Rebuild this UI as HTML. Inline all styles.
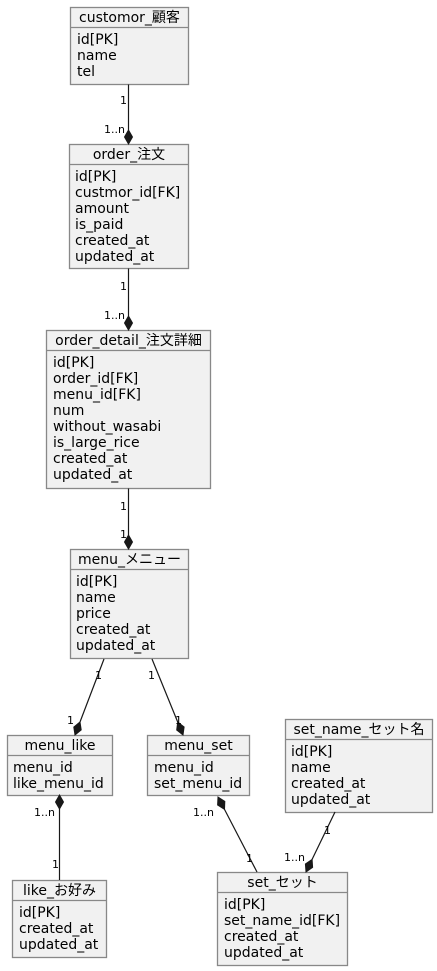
<!DOCTYPE html>
<html><head><meta charset="utf-8"><style>
html,body{margin:0;padding:0;background:#fff;}
svg{display:block}
text{font-family:"DejaVu Sans","Noto Sans CJK JP",sans-serif;fill:#000}
.t{font-size:14px}
.l{font-size:11px}
rect{fill:#f1f1f1;stroke:#888;stroke-width:1.3}
.s{stroke:#888;stroke-width:1.3}
.e{stroke:#181818;stroke-width:1.2;fill:none}
.d{fill:#181818;stroke:#181818;stroke-width:1}
</style></head><body>
<svg width="437" height="971" viewBox="0 0 437 971" xmlns="http://www.w3.org/2000/svg">
<!-- customor -->
<rect x="70.5" y="7.5" width="118" height="77"/><line class="s" x1="70.5" y1="27.5" x2="188.5" y2="27.5"/>
<text class="t" x="129.5" y="22" text-anchor="middle">customor_顧客</text>
<text class="t" x="77" y="44">id[PK]</text><text class="t" x="77" y="60">name</text><text class="t" x="77" y="76">tel</text>
<!-- order -->
<rect x="69.5" y="144.5" width="119" height="124"/><line class="s" x1="69.5" y1="164.5" x2="188.5" y2="164.5"/>
<text class="t" x="129" y="159" text-anchor="middle">order_注文</text>
<text class="t" x="75" y="181">id[PK]</text><text class="t" x="75" y="197">custmor_id[FK]</text><text class="t" x="75" y="213">amount</text><text class="t" x="75" y="229">is_paid</text><text class="t" x="75" y="245">created_at</text><text class="t" x="75" y="261">updated_at</text>
<!-- order_detail -->
<rect x="46.5" y="330.5" width="164" height="158"/><line class="s" x1="46.5" y1="350.5" x2="210.5" y2="350.5"/>
<text class="t" x="128.5" y="345" text-anchor="middle">order_detail_注文詳細</text>
<text class="t" x="53" y="367">id[PK]</text><text class="t" x="53" y="383">order_id[FK]</text><text class="t" x="53" y="399">menu_id[FK]</text><text class="t" x="53" y="415">num</text><text class="t" x="53" y="431">without_wasabi</text><text class="t" x="53" y="447">is_large_rice</text><text class="t" x="53" y="463">created_at</text><text class="t" x="53" y="479">updated_at</text>
<!-- menu -->
<rect x="70.5" y="549.5" width="118" height="109"/><line class="s" x1="70.5" y1="569.5" x2="188.5" y2="569.5"/>
<text class="t" x="129.5" y="564" text-anchor="middle">menu_メニュー</text>
<text class="t" x="76" y="586">id[PK]</text><text class="t" x="76" y="602">name</text><text class="t" x="76" y="618">price</text><text class="t" x="76" y="634">created_at</text><text class="t" x="76" y="650">updated_at</text>
<!-- menu_like -->
<rect x="7.5" y="735.5" width="105" height="60"/><line class="s" x1="7.5" y1="755.5" x2="112.5" y2="755.5"/>
<text class="t" x="60" y="750" text-anchor="middle">menu_like</text>
<text class="t" x="13" y="772">menu_id</text><text class="t" x="13" y="788">like_menu_id</text>
<!-- menu_set -->
<rect x="147.5" y="735.5" width="102" height="60"/><line class="s" x1="147.5" y1="755.5" x2="249.5" y2="755.5"/>
<text class="t" x="198.5" y="750" text-anchor="middle">menu_set</text>
<text class="t" x="154" y="772">menu_id</text><text class="t" x="154" y="788">set_menu_id</text>
<!-- set_name -->
<rect x="285.5" y="719.5" width="147" height="93"/><line class="s" x1="285.5" y1="739.5" x2="432.5" y2="739.5"/>
<text class="t" x="359" y="734" text-anchor="middle">set_name_セット名</text>
<text class="t" x="291" y="756">id[PK]</text><text class="t" x="291" y="772">name</text><text class="t" x="291" y="788">created_at</text><text class="t" x="291" y="804">updated_at</text>
<!-- like -->
<rect x="12.5" y="880.5" width="94" height="77"/><line class="s" x1="12.5" y1="900.5" x2="106.5" y2="900.5"/>
<text class="t" x="59.5" y="895" text-anchor="middle">like_お好み</text>
<text class="t" x="19" y="917">id[PK]</text><text class="t" x="19" y="933">created_at</text><text class="t" x="19" y="949">updated_at</text>
<!-- set -->
<rect x="217.5" y="872.5" width="130" height="93"/><line class="s" x1="217.5" y1="892.5" x2="347.5" y2="892.5"/>
<text class="t" x="282.5" y="887" text-anchor="middle">set_セット</text>
<text class="t" x="224" y="909">id[PK]</text><text class="t" x="224" y="925">set_name_id[FK]</text><text class="t" x="224" y="941">created_at</text><text class="t" x="224" y="957">updated_at</text>

<!-- edges -->
<line class="e" x1="128.5" y1="84.5" x2="128.5" y2="130"/>
<polygon class="d" points="128.5,144 132.5,137 128.5,130 124.5,137"/>
<text class="l" x="120" y="104">1</text><text class="l" x="104" y="133">1..n</text>

<line class="e" x1="128.5" y1="268.5" x2="128.5" y2="316"/>
<polygon class="d" points="128.5,330 132.5,323 128.5,316 124.5,323"/>
<text class="l" x="120" y="290">1</text><text class="l" x="104" y="319">1..n</text>

<line class="e" x1="128.5" y1="488.5" x2="128.5" y2="535"/>
<polygon class="d" points="128.5,549 132.5,542 128.5,535 124.5,542"/>
<text class="l" x="120" y="510">1</text><text class="l" x="120" y="538">1</text>

<line class="e" x1="104" y1="659" x2="80" y2="722"/>
<polygon class="d" points="75,735 81.2,729.9 80,722 73.8,727.1"/>
<text class="l" x="95" y="679">1</text><text class="l" x="67" y="724">1</text>

<line class="e" x1="152" y1="659" x2="177.7" y2="722"/>
<polygon class="d" points="183,735 184.1,727 177.7,722 176.7,730"/>
<text class="l" x="148" y="679">1</text><text class="l" x="175" y="724">1</text>

<line class="e" x1="59.5" y1="809" x2="59.5" y2="880"/>
<polygon class="d" points="59.5,795 63.5,802 59.5,809 55.5,802"/>
<text class="l" x="34" y="816">1..n</text><text class="l" x="52" y="868">1</text>

<line class="e" x1="224.5" y1="809.4" x2="257" y2="872"/>
<polygon class="d" points="218,797 224.8,801.4 224.5,809.4 217.6,805"/>
<text class="l" x="193" y="816">1..n</text><text class="l" x="246" y="862">1</text>

<line class="e" x1="335" y1="812" x2="312.1" y2="859.4"/>
<polygon class="d" points="306,872 312.6,867.4 312.1,859.4 305.4,864"/>
<text class="l" x="324" y="834">1</text><text class="l" x="284" y="861">1..n</text>
</svg>
</body></html>
